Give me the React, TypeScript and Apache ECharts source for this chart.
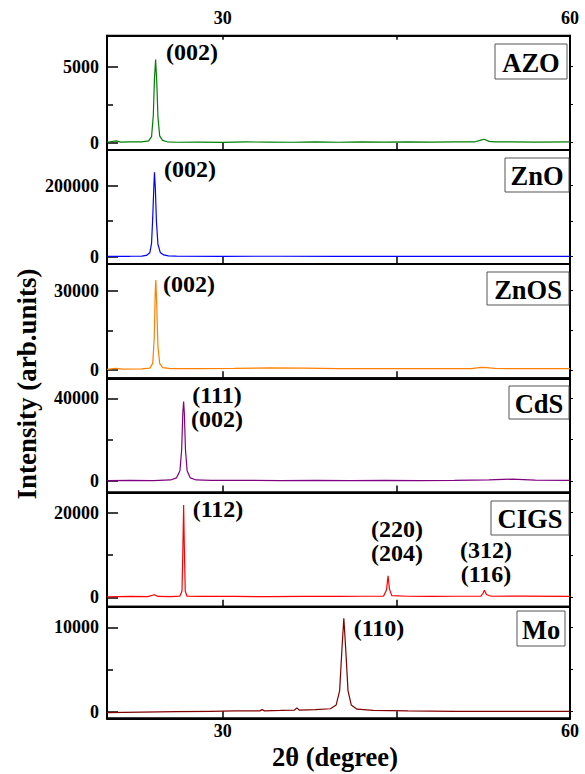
import React, { useEffect, useRef } from "react";
import * as echarts from "echarts";

// ---- data (2θ in degrees, intensity in arb. units) ----
const azoData: [number, number][] = [
  [20, 30], [20.8, 120], [21.2, 40], [22, 60], [23, 50], [23.6, 120], [23.85, 400], [24.0, 1800],
  [24.1, 4200], [24.2, 5480], [24.3, 4000], [24.4, 1700], [24.55, 450], [24.8, 150], [25.2, 60],
  [26, 30], [28, 40], [30, 20], [32, 50], [34, 40], [36, 30], [38, 50], [40, 30], [42, 60], [44, 40],
  [46, 50], [48, 40], [50, 60], [51.8, 60], [52.3, 170], [52.6, 230], [53, 90], [53.5, 50], [55, 60],
  [57, 40], [60, 50],
];
const znoData: [number, number][] = [
  [20, 1000], [22, 1200], [23, 1500], [23.4, 3500], [23.7, 11000], [23.85, 38000], [23.95, 110000],
  [24.05, 200000], [24.1, 237700], [24.18, 190000], [24.27, 100000], [24.4, 35000], [24.6, 12000],
  [24.9, 5000], [25.3, 2200], [26, 1500], [30, 1200], [35, 1300], [40, 1000], [45, 1200], [50, 1200],
  [55, 1000], [60, 1200],
];
const znosData: [number, number][] = [
  [20, 200], [20.8, 600], [21.3, 300], [23, 400], [23.7, 700], [23.95, 2500], [24.08, 12000],
  [24.17, 30000], [24.22, 34000], [24.3, 24000], [24.4, 9000], [24.55, 2500], [24.8, 900], [25.5, 500],
  [28, 500], [31, 600], [34, 800], [37, 700], [40, 500], [44, 500], [48, 500], [51.5, 500], [52.3, 1000],
  [52.8, 900], [53.5, 600], [56, 500], [60, 500],
];
const cdsData: [number, number][] = [
  [20, 200], [22, 300], [24, 200], [25.5, 500], [26.0, 1500], [26.3, 5000], [26.45, 15000],
  [26.55, 33000], [26.62, 38400], [26.68, 33000], [26.78, 15000], [26.92, 5000], [27.2, 1500],
  [27.7, 500], [29, 300], [32, 300], [35, 200], [38, 300], [41, 200], [44, 300], [47, 200], [50, 300],
  [53, 500], [55, 900], [57, 400], [60, 300],
];
const cigsData: [number, number][] = [
  [20, 100], [22, 200], [23.5, 150], [24.1, 600], [24.4, 200], [25.5, 150], [26.3, 300], [26.48, 1500],
  [26.56, 12000], [26.62, 21800], [26.68, 12000], [26.76, 1500], [26.9, 300], [28, 200], [31, 200],
  [34, 150], [37, 200], [40, 200], [42, 250], [43.9, 300], [44.15, 1800], [44.28, 5100], [44.4, 2000],
  [44.6, 400], [46, 250], [48, 200], [50, 250], [52.3, 300], [52.5, 1000], [52.6, 1650], [52.8, 600],
  [53.2, 250], [56, 300], [60, 200],
];
const moData: [number, number][] = [
  [20, -100], [23, -50], [26, 0], [29, 50], [31, 100], [33.2, 100], [33.4, 250], [33.6, 100],
  [35, 150], [36.2, 200], [36.4, 450], [36.6, 200], [38, 250], [39.3, 350], [39.8, 800], [40.1, 2500],
  [40.3, 7500], [40.46, 11070], [40.62, 7500], [40.82, 2500], [41.1, 800], [41.6, 300], [43, 150],
  [46, 100], [50, 50], [55, 50], [60, 50],
];

const panelNames = ["AZO", "ZnO", "ZnOS", "CdS", "CIGS", "Mo"];
const panelData = [azoData, znoData, znosData, cdsData, cigsData, moData];
const panelColors = ["#008000", "#0000ff", "#ff8000", "#800080", "#ff0000", "#800000"];
const yMins = [-480, -20560, -3140, -5560, -2220, -780];
const yMaxs = [7040, 300560, 40100, 49670, 24775, 12440];
const majorTicks = [5000, 200000, 30000, 40000, 20000, 10000];
const xTickLabels = [30, 60];
const xTicks = [30, 45, 60];

// peak annotations (Miller indices)
const peakLabels: { text: string; x: number; y: number }[] = [
  { text: "(002)", x: 192, y: 52 },
  { text: "(002)", x: 190, y: 169 },
  { text: "(002)", x: 189, y: 284 },
  { text: "(111)\n(002)", x: 217, y: 407 },
  { text: "(112)", x: 218, y: 509 },
  { text: "(220)\n(204)", x: 397, y: 541 },
  { text: "(312)\n(116)", x: 486, y: 562 },
  { text: "(110)", x: 379, y: 628 },
];

const FONT = "Liberation Serif, Times New Roman, serif";
const gridTops = [35.7, 150, 264, 378.3, 492.5, 606.7];
const gridBottomLast = 718.3;
const boxRects = [
  [495, 44, 72, 35],
  [505, 158, 64, 34],
  [487, 272, 82, 33],
  [509, 386, 60, 33],
  [491, 501, 78, 34],
  [517, 611, 48, 35],
];

const fmt = (v: number) => String(v);

export default function App() {
  const ref = useRef<HTMLDivElement>(null);
  useEffect(() => {
    if (!ref.current) return;
    const chart = echarts.init(ref.current, null, { renderer: "svg" });
    const grids: any[] = [];
    const xAxes: any[] = [];
    const yAxes: any[] = [];
    const series: any[] = [];
    const n = panelNames.length;
    for (let i = 0; i < n; i++) {
      const top = gridTops[i];
      const bottom = i < n - 1 ? gridTops[i + 1] : gridBottomLast;
      grids.push({
        left: 107,
        width: 463,
        top,
        height: bottom - top,
        show: true,
        borderColor: "#000",
        borderWidth: 2,
        backgroundColor: "transparent",
      });
      xAxes.push({
        type: "value",
        gridIndex: i,
        position: "bottom",
        min: 20,
        max: 60,
        axisLine: { show: true, onZero: false, lineStyle: { color: "#000", width: 2 } },
        axisTick: { show: true, inside: true, length: 7, customValues: xTicks, lineStyle: { color: "#000", width: 1.5 } },
        axisLabel: {
          show: i === n - 1,
          customValues: xTickLabels,
          formatter: fmt,
          color: "#000",
          fontFamily: FONT,
          fontWeight: "bold",
          fontSize: 18,
          margin: 4,
        },
        splitLine: { show: false },
      });
      yAxes.push({
        type: "value",
        gridIndex: i,
        position: "left",
        min: yMins[i],
        max: yMaxs[i],
        axisLine: { show: true, onZero: false, lineStyle: { color: "#000", width: 2 } },
        axisTick: { show: true, inside: true, length: 11, customValues: [0, majorTicks[i]], lineStyle: { color: "#000", width: 1.5 } },
        axisLabel: {
          customValues: [0, majorTicks[i]],
          formatter: fmt,
          color: "#000",
          fontFamily: FONT,
          fontWeight: "bold",
          fontSize: 18,
          margin: 8,
        },
        splitLine: { show: false },
      });
      yAxes.push({
        type: "value",
        gridIndex: i,
        position: "left",
        min: yMins[i],
        max: yMaxs[i],
        axisLine: { show: false },
        axisTick: { show: true, inside: true, length: 6, customValues: [majorTicks[i] / 2], lineStyle: { color: "#000", width: 1.5 } },
        axisLabel: { show: false },
        splitLine: { show: false },
      });
      yAxes.push({
        type: "value",
        gridIndex: i,
        position: "right",
        min: yMins[i],
        max: yMaxs[i],
        axisLine: { show: true, onZero: false, lineStyle: { color: "#000", width: 2 } },
        axisTick: { show: true, inside: false, length: 3, customValues: [0, majorTicks[i] / 2, majorTicks[i]], lineStyle: { color: "#000", width: 1 } },
        axisLabel: { show: false },
        splitLine: { show: false },
      });
      series.push({
        type: "line",
        xAxisIndex: i,
        yAxisIndex: 3 * i,
        data: panelData[i],
        showSymbol: false,
        symbol: "none",
        lineStyle: { color: panelColors[i], width: 1.2 },
        itemStyle: { color: panelColors[i] },
        z: 3,
      });
    }
    // top axis of the first panel
    xAxes.push({
      type: "value",
      gridIndex: 0,
      position: "top",
      min: 20,
      max: 60,
      axisLine: { show: true, onZero: false, lineStyle: { color: "#000", width: 2 } },
      axisTick: { show: true, inside: true, length: 4, customValues: xTicks, lineStyle: { color: "#000", width: 1.5 } },
      axisLabel: {
        customValues: xTickLabels,
        formatter: fmt,
        color: "#000",
        fontFamily: FONT,
        fontWeight: "bold",
        fontSize: 18,
        margin: 9,
      },
      splitLine: { show: false },
    });

    const graphics: any[] = [];
    for (let i = 0; i < n; i++) {
      const [bx, by, bw, bh] = boxRects[i];
      graphics.push({
        type: "rect",
        z: 100,
        shape: { x: bx, y: by, width: bw, height: bh },
        style: { fill: "#fff", stroke: "#555", lineWidth: 1 },
      });
      graphics.push({
        type: "text",
        z: 101,
        x: bx + bw / 2,
        y: by + bh / 2 + 1,
        style: {
          text: panelNames[i],
          fontFamily: FONT,
          fontWeight: "bold",
          fontSize: 26.5,
          fill: "#000",
          align: "center",
          verticalAlign: "middle",
        },
      });
    }
    for (const p of peakLabels) {
      graphics.push({
        type: "text",
        z: 101,
        x: p.x,
        y: p.y,
        style: {
          text: p.text,
          fontFamily: FONT,
          fontWeight: "bold",
          fontSize: 24,
          lineHeight: 24,
          fill: "#000",
          align: "center",
          verticalAlign: "middle",
        },
      });
    }
    graphics.push({
      type: "text",
      z: 101,
      x: 27,
      y: 384,
      rotation: Math.PI / 2,
      style: {
        text: "Intensity (arb.units)",
        fontFamily: FONT,
        fontWeight: "bold",
        fontSize: 27,
        fill: "#000",
        align: "center",
        verticalAlign: "middle",
      },
    });
    graphics.push({
      type: "text",
      z: 101,
      x: 335,
      y: 757,
      style: {
        text: "2θ (degree)",
        fontFamily: FONT,
        fontWeight: "bold",
        fontSize: 26.5,
        fill: "#000",
        align: "center",
        verticalAlign: "middle",
      },
    });

    chart.setOption({
      animation: false,
      backgroundColor: "#fff",
      grid: grids,
      xAxis: xAxes,
      yAxis: yAxes,
      series,
      graphic: graphics,
    });
    return () => chart.dispose();
  }, []);
  return (
    <div
      ref={ref}
      style={{ position: "fixed", left: 0, top: 0, width: 585, height: 774, background: "#fff" }}
    />
  );
}
